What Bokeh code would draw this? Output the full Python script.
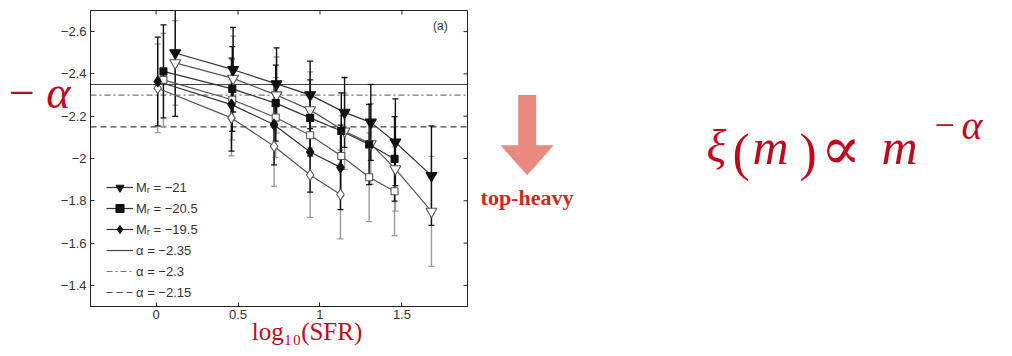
import math
from bokeh.plotting import figure
from bokeh.layouts import row
from bokeh.models import (ColumnDataSource, Span, Label, Legend, LegendItem,
                          FixedTicker, LinearAxis, Range1d)
from bokeh.core.properties import value
from bokeh.embed import file_html
from bokeh.resources import INLINE

# ---------------- data ----------------
x_tri = [0.117, 0.47, 0.735, 0.94, 1.15, 1.31, 1.46, 1.68]
a_tri_f = [-2.499, -2.420, -2.353, -2.301, -2.218, -2.171, -2.077, -1.919]
e_tri_f = [0.30, 0.20, 0.17, 0.16, 0.165, 0.18, 0.205, 0.235]
a_tri_o = [-2.452, -2.379, -2.300, -2.230, -2.129, -2.069, -1.951, -1.750]
e_tri_o = [0.20, 0.20, 0.18, 0.18, 0.18, 0.19, 0.20, 0.26]

x_sq = [0.045, 0.465, 0.73, 0.94, 1.13, 1.30, 1.455]
a_sq_f = [-2.412, -2.329, -2.262, -2.192, -2.130, -2.066, -1.998]
e_sq_f = [0.22, 0.20, 0.18, 0.18, 0.18, 0.19, 0.20]
a_sq_o = [-2.372, -2.278, -2.194, -2.110, -2.012, -1.911, -1.845]
e_sq_o = [0.22, 0.19, 0.19, 0.19, 0.19, 0.21, 0.21]

x_di = [0.01, 0.46, 0.72, 0.94, 1.125]
a_di_f = [-2.364, -2.255, -2.160, -2.031, -1.958]
e_di_f = [0.21, 0.22, 0.19, 0.19, 0.20]
a_di_o = [-2.332, -2.192, -2.058, -1.922, -1.830]
e_di_o = [0.21, 0.18, 0.19, 0.20, 0.21]

series_labels = ["Mᵣ = −21", "Mᵣ = −20.5", "Mᵣ = −19.5"]
alpha_levels = [-2.35, -2.3, -2.15]
alpha_labels = ["α = −2.35", "α = −2.3", "α = −2.15"]

x_ticks = [0, 0.5, 1, 1.5]
x_tick_labels = ["0", "0.5", "1", "1.5"]
y_ticks = [-2.6, -2.4, -2.2, -2.0, -1.8, -1.6, -1.4]
y_tick_labels = ["−2.6", "−2.4", "−2.2", "−2", "−1.8", "−1.6", "−1.4"]

RED = "#BF0A1E"
AX = "#222222"

# ---------------- main chart ----------------
BL, BT, BR, BB = 90, 10, 5, 0
FW, FH = 377, 296
p = figure(frame_width=FW, frame_height=FH,
           min_border_left=BL, min_border_right=BR, min_border_top=BT, min_border_bottom=BB,
           x_range=Range1d(-0.4, 1.9), y_range=Range1d(-1.3, -2.7),
           output_backend="svg", toolbar_location=None)
p.grid.visible = False
p.outline_line_color = AX
p.background_fill_color = "white"
p.border_fill_color = "white"

for ax, ticks, labels in [(p.xaxis[0], x_ticks, x_tick_labels), (p.yaxis[0], y_ticks, y_tick_labels)]:
    ax.ticker = FixedTicker(ticks=ticks)
    ax.major_label_overrides = dict(zip(ticks, labels))
    ax.major_tick_in = 4
    ax.major_tick_out = 0
    ax.minor_tick_in = 0
    ax.minor_tick_out = 0
    ax.minor_tick_line_color = None
    ax.axis_line_color = AX
    ax.major_tick_line_color = AX
    ax.major_label_text_font = "Liberation Sans"
    ax.major_label_text_font_size = "13px"
    ax.major_label_text_color = "#333333"
p.yaxis[0].major_label_standoff = 4
p.xaxis[0].major_label_standoff = 3


def text_axis(pos, text, size, standoff, style="normal"):
    """an axis with one tick and no lines, used to write a label beside the frame"""
    return LinearAxis(ticker=FixedTicker(ticks=[pos]), major_label_overrides={pos: text},
                      major_tick_in=0, major_tick_out=0, major_tick_line_color=None,
                      minor_tick_in=0, minor_tick_out=0, minor_tick_line_color=None,
                      axis_line_color=None, major_label_standoff=standoff,
                      major_label_text_font="Liberation Serif",
                      major_label_text_font_style=style,
                      major_label_text_font_size=f"{size}px", major_label_text_color=RED)


# "-alpha" beside the y axis and "log10(SFR)" under the x axis
p.add_layout(text_axis(-2.312, "−\u2009α", 46, -13, style="italic"), "left")
p.add_layout(text_axis(0.921, "log₁₀(SFR)", 25, -4), "below")

# mirrored inward ticks on the top and right edges (half of each dash is clipped by the frame)
p.scatter(x=x_ticks, y=[p.y_range.end] * len(x_ticks), marker="dash", angle=math.pi / 2,
          size=8, line_color=AX, line_width=1)
p.scatter(x=[p.x_range.end] * len(y_ticks), y=y_ticks, marker="dash",
          size=8, line_color=AX, line_width=1)

span_styles = [("#444444", "solid"), ("#777777", "6 3 2 3"), ("#444444", "6 4")]
for lvl, (col, dash) in zip(alpha_levels, span_styles):
    p.add_layout(Span(location=lvl, dimension="width", line_color=col, line_width=1.2,
                      line_dash=dash, level="underlay"))

series = [
    (x_tri, a_tri_o, e_tri_o, "inverted_triangle", 11, False),
    (x_sq, a_sq_o, e_sq_o, "square", 7, False),
    (x_di, a_di_o, e_di_o, "diamond", 11, False),
    (x_tri, a_tri_f, e_tri_f, "inverted_triangle", 11, True),
    (x_sq, a_sq_f, e_sq_f, "square", 7, True),
    (x_di, a_di_f, e_di_f, "diamond", 11, True),
]

sources = []
for x, y, e, marker, size, filled in series:
    lo = [a + b for a, b in zip(y, e)]
    hi = [a - b for a, b in zip(y, e)]
    src = ColumnDataSource(dict(x=x, y=y, lo=lo, hi=hi))
    sources.append(src)
    ecol = "#111111" if filled else "#9a9a9a"
    p.segment(x0="x", y0="lo", x1="x", y1="hi", source=src, line_color=ecol, line_width=1.4)
    p.scatter(x="x", y="lo", marker="dash", size=6, line_color=ecol, line_width=1.3, source=src)
    p.scatter(x="x", y="hi", marker="dash", size=6, line_color=ecol, line_width=1.3, source=src)

legend_r = {}
for (x, y, e, marker, size, filled), src in zip(series, sources):
    ln = p.line(x="x", y="y", source=src, line_color="#555555" if not filled else "#333333",
                line_width=1.2)
    legend_r[(marker, filled)] = [ln]
for (x, y, e, marker, size, filled), src in zip(series, sources):
    sc = p.scatter(x="x", y="y", source=src, marker=marker, size=size,
                   fill_color="#111111" if filled else "white",
                   line_color="#111111" if filled else "#555555", line_width=1.1)
    legend_r[(marker, filled)].append(sc)

items = []
for lab_, mk in zip(series_labels, ["inverted_triangle", "square", "diamond"]):
    items.append(LegendItem(label=lab_, renderers=legend_r[(mk, True)]))
nan = float("nan")
for lab_, (col, dash) in zip(alpha_labels, span_styles):
    dummy = p.line(x=[nan, nan], y=[nan, nan], line_color=col, line_width=1.2, line_dash=dash)
    items.append(LegendItem(label=lab_, renderers=[dummy]))

legend = Legend(items=items, location=(16, 4), padding=2, margin=0, spacing=1,
                label_height=20, glyph_height=20, glyph_width=27, label_standoff=3,
                label_text_font="Liberation Sans", label_text_font_size="13px",
                label_text_color="#333333", border_line_color=None, background_fill_alpha=0)
p.add_layout(legend)

p.add_layout(Label(x=1.69, y=-2.628, text="(a)",
                   text_font="Liberation Sans", text_font_size="12px", text_color="#333333",
                   text_baseline="middle"))

MAIN_W = BL + FW + BR
R_H = 330


def blank(width, height, x0, y0):
    """figure whose frame fills it, with ranges in page pixels (y downwards)"""
    f = figure(width=width, height=height, min_border=0,
               x_range=Range1d(x0, x0 + width), y_range=Range1d(y0 + height, y0),
               x_axis_location=None, y_axis_location=None,
               output_backend="svg", toolbar_location=None)
    f.grid.visible = False
    f.outline_line_color = None
    f.background_fill_color = "white"
    f.border_fill_color = "white"
    return f


def txt(f, text, x, y, size, font="Liberation Serif", style="normal", color=RED, align="left"):
    f.text(x=[x], y=[y], text=[text], text_font=value(font), text_font_size=f"{size}px",
           text_font_style=style, text_color=color, text_align=align,
           text_baseline="alphabetic")


# ---------------- right-hand panel: arrow, "top-heavy", formula ----------------
R = blank(1010 - MAIN_W, R_H, MAIN_W, 0)
arrow_x = [517.7, 535.7, 535.7, 553.3, 526.7, 500.0, 517.7]
arrow_y = [100.0, 100.0, 159.3, 159.3, 195.0, 159.3, 159.3]
R.patch(x=arrow_x, y=arrow_y, fill_color="#E98A80", line_color=None)
txt(R, "top-heavy", 526.5, 221, 22, style="bold", color="#CC2A1E", align="center")

txt(R, "ξ", 706, 161, 46, style="italic")
txt(R, "(", 732, 168, 52)
txt(R, "m", 752, 161, 50, style="italic")
txt(R, ")", 799, 168, 52)
txt(R, "∝", 820, 163, 60, font="DejaVu Serif")
txt(R, "m", 881, 161, 50, style="italic")
txt(R, "−", 934, 136, 36)
txt(R, "α", 961, 136, 40, style="italic")

layout = row(p, R)
open("out.html", "w").write(file_html(layout, INLINE))
